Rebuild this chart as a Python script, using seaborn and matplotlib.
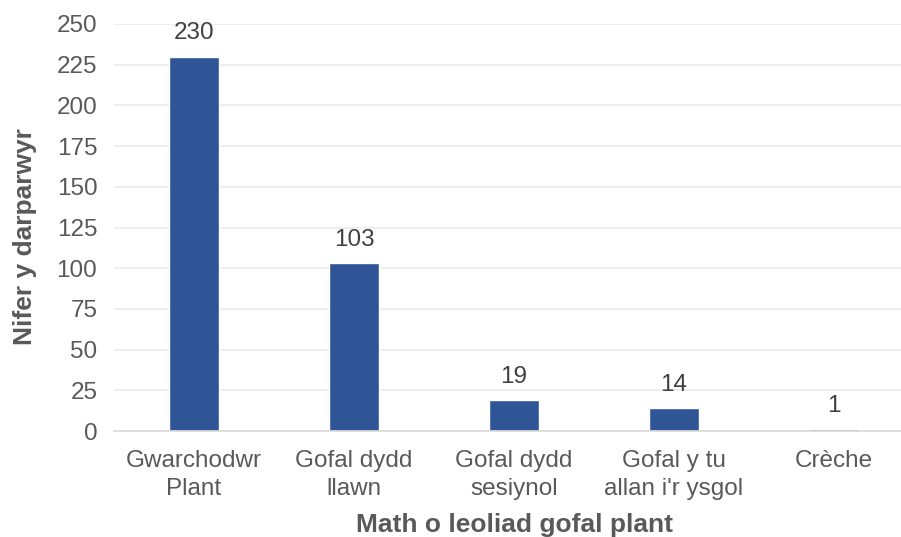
import matplotlib
matplotlib.use("Agg")
import matplotlib.pyplot as plt
import seaborn as sns
import pandas as pd

categories = ["Gwarchodwr\nPlant", "Gofal dydd\nllawn", "Gofal dydd\nsesiynol", "Gofal y tu\nallan i'r ysgol", "Crèche"]
values = [230, 103, 19, 14, 1]
yticks = [0, 25, 50, 75, 100, 125, 150, 175, 200, 225, 250]

sns.set_theme(style="white")
plt.rcParams['font.family'] = ['Liberation Sans', 'DejaVu Sans']

df = pd.DataFrame({"cat": categories, "val": values})

fig = plt.figure(figsize=(9.01, 5.37), dpi=100)
ax = fig.add_axes([114/901, 106/537, 800/901, 407/537])
sns.barplot(data=df, x="cat", y="val", color="#2F5597", width=0.31, saturation=1, ax=ax)

ax.set_ylim(0, 250)
ax.set_yticks(yticks)
ax.set_xticks(range(len(categories)))
ax.set_xticklabels(categories, linespacing=1.3)
ax.grid(axis="y", color="#EBEBEB", linewidth=1.2)
ax.set_axisbelow(True)
for s in ["top", "right", "left"]:
    ax.spines[s].set_visible(False)
ax.spines["bottom"].set_color("#D9D9D9")
ax.spines["bottom"].set_linewidth(1.2)
ax.tick_params(axis="both", length=0, labelsize=17.5, colors="#595959")
ax.tick_params(axis="y", pad=12)
ax.tick_params(axis="x", pad=14)

for p, v in zip(ax.patches, values):
    ax.annotate(str(v), (p.get_x() + p.get_width() / 2, p.get_height()),
                xytext=(0, 9), textcoords="offset points", ha="center", va="bottom",
                fontsize=17.5, color="#404040")

ax.set_xlabel("Math o leoliad gofal plant", fontsize=19, fontweight="bold", color="#595959")
ax.xaxis.set_label_coords(0.5, -82/407, transform=ax.transAxes)
ax.set_ylabel("Nifer y darparwyr", fontsize=19, fontweight="bold", color="#595959")
ax.yaxis.set_label_coords(-77/800, 0.477, transform=ax.transAxes)

fig.savefig("out.png", dpi=100)
